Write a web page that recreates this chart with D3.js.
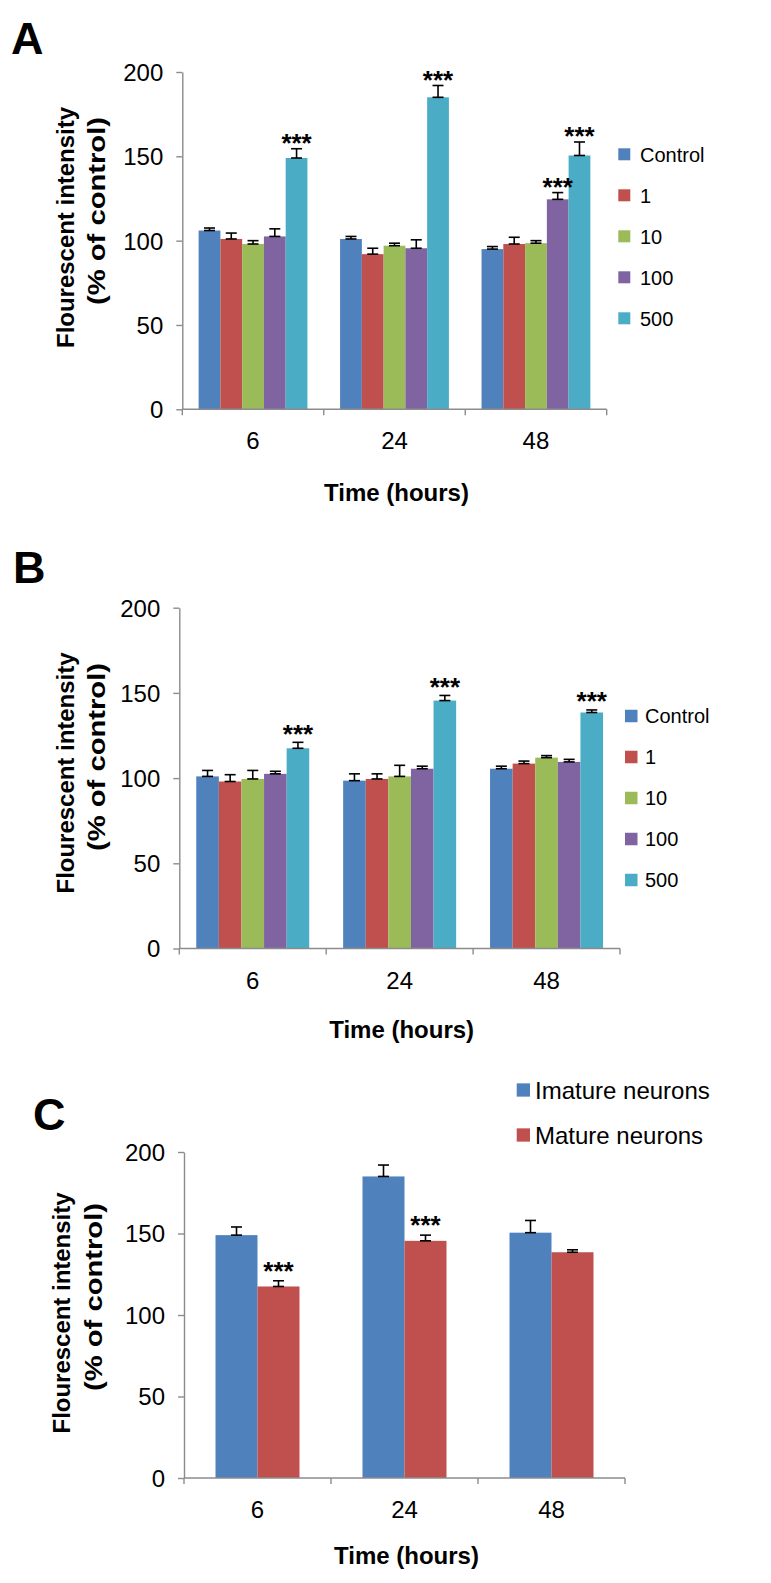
<!DOCTYPE html>
<html><head><meta charset="utf-8">
<script src="https://cdn.jsdelivr.net/npm/d3@7"></script>
<style>body{margin:0;background:#fff;} svg{display:block;}</style>
</head><body>
<script>
// ---------- DATA ----------
const categories = ["6", "24", "48"];
const seriesAB = ["Control", "1", "10", "100", "500"];
const seriesC = ["Imature neurons", "Mature neurons"];
const yTicks = [0, 50, 100, 150, 200];

// Panel A
const aControl = [106, 101, 95];
const a1 = [101, 92, 98];
const a10 = [98, 97, 98.5];
const a100 = [102.5, 95.5, 124.5];
const a500 = [149, 185, 150.5];
const aControlErr = [1.5, 1.5, 1.5];
const a1Err = [3.5, 3.5, 4];
const a10Err = [2, 1.5, 1.5];
const a100Err = [4.5, 5, 4];
const a500Err = [5.5, 7, 8];
const aStars = [["500", "6"], ["500", "24"], ["100", "48"], ["500", "48"]];

// Panel B
const bControl = [101, 98.5, 105.5];
const b1 = [98, 99.5, 108.5];
const b10 = [99.5, 101, 112];
const b100 = [102.5, 105.5, 109.5];
const b500 = [117.5, 145.5, 138.5];
const bControlErr = [3.5, 4, 1.5];
const b1Err = [4, 3, 1.5];
const b10Err = [5, 6.5, 1.2];
const b100Err = [1.5, 1.5, 1.5];
const b500Err = [3.5, 3, 1.5];
const bStars = [["500", "6"], ["500", "24"], ["500", "48"]];

// Panel C
const cImmature = [149, 185, 150.5];
const cMature = [117.5, 145.5, 138.5];
const cImmatureErr = [5, 7, 7.5];
const cMatureErr = [3.5, 3.5, 1.5];
const cStars = [["Mature neurons", "6"], ["Mature neurons", "24"]];

const colorsAB = ["#4F81BD", "#C0504D", "#9BBB59", "#8064A2", "#4BACC6"];
const colorsC = ["#4F81BD", "#C0504D"];

// ---------- DRAW ----------
const W = 771, H = 1583;
const FONT = "'Liberation Sans', Arial, Helvetica, sans-serif";
const svg = d3.select("body").append("svg").attr("width", W).attr("height", H)
  .style("font-family", FONT);

function drawPanel(cfg) {
  const g = svg.append("g");
  const x0 = d3.scaleBand().domain(categories).range([cfg.xL, cfg.xR]).paddingInner(0).paddingOuter(0);
  const x1 = d3.scaleBand().domain(cfg.series).range([0, x0.bandwidth()]).paddingInner(0).paddingOuter(0.75);
  const y = d3.scaleLinear().domain([0, 200]).range([cfg.y0, cfg.y200]);
  const axisColor = "#8c8c8c";

  // y axis
  const yAxis = g.append("g").attr("transform", `translate(${cfg.xL},0)`)
    .call(d3.axisLeft(y).tickValues(yTicks).tickSize(6).tickPadding(13).tickSizeOuter(0));
  yAxis.select(".domain").attr("stroke", axisColor).attr("stroke-width", 1.4);
  yAxis.selectAll(".tick line").attr("stroke", axisColor).attr("stroke-width", 1.4);
  yAxis.selectAll(".tick text").attr("font-size", 24).attr("font-family", FONT).attr("fill", "#000")
    .attr("dy", "0.35em");

  // bars
  cfg.series.forEach((s, i) => {
    const vals = cfg.values[i];
    categories.forEach((c, j) => {
      const bx = x0(c) + x1(s);
      g.append("rect").attr("x", bx).attr("y", y(vals[j]))
        .attr("width", x1.bandwidth()).attr("height", y(0) - y(vals[j]))
        .attr("fill", cfg.colors[i]);
    });
  });

  // x axis (boundary ticks like Excel)
  const xAxisG = g.append("g");
  xAxisG.append("line").attr("x1", cfg.xL).attr("x2", cfg.xR).attr("y1", cfg.y0).attr("y2", cfg.y0)
    .attr("stroke", axisColor).attr("stroke-width", 1.4);
  const bounds = categories.map(c => x0(c)).concat([x0(categories[categories.length - 1]) + x0.bandwidth()]);
  bounds.forEach(bx => {
    xAxisG.append("line").attr("x1", bx).attr("x2", bx).attr("y1", cfg.y0).attr("y2", cfg.y0 + 6)
      .attr("stroke", axisColor).attr("stroke-width", 1.4);
  });
  categories.forEach(c => {
    xAxisG.append("text").attr("x", x0(c) + x0.bandwidth() / 2).attr("y", cfg.y0 + 40)
      .attr("text-anchor", "middle").attr("font-size", 24).text(c);
  });

  // error bars
  cfg.series.forEach((s, i) => {
    const vals = cfg.values[i], errs = cfg.errors[i];
    categories.forEach((c, j) => {
      const cx = x0(c) + x1(s) + x1.bandwidth() / 2;
      const yl = y(vals[j]), yh = y(vals[j] + errs[j]);
      const cw = 5.5;
      const eg = g.append("g").attr("stroke", "#000").attr("stroke-width", 1.6);
      eg.append("line").attr("x1", cx).attr("x2", cx).attr("y1", yl).attr("y2", yh);
      eg.append("line").attr("x1", cx - cw).attr("x2", cx + cw).attr("y1", yl).attr("y2", yl);
      eg.append("line").attr("x1", cx - cw).attr("x2", cx + cw).attr("y1", yh).attr("y2", yh);
    });
  });

  // significance stars
  const sf = 26;
  cfg.stars.forEach(([s, c]) => {
    const i = cfg.series.indexOf(s), j = categories.indexOf(c);
    const cx = x0(c) + x1(s) + x1.bandwidth() / 2;
    const top = y(cfg.values[i][j] + cfg.errors[i][j]);
    g.append("text").attr("x", cx).attr("y", top - cfg.starGap + 0.28 * sf)
      .attr("text-anchor", "middle").attr("font-size", sf).attr("font-weight", "bold").text("***");
  });

  // legend
  cfg.series.forEach((s, i) => {
    const ly = cfg.legY + i * cfg.legDy;
    g.append("rect").attr("x", cfg.legX).attr("y", ly - cfg.legSize / 2)
      .attr("width", cfg.legSize).attr("height", cfg.legSize).attr("fill", cfg.colors[i]);
    g.append("text").attr("x", cfg.legTextX).attr("y", ly).attr("dy", "0.36em")
      .attr("font-size", cfg.legFont).text(s);
  });

  // axis titles
  g.append("text").attr("x", (cfg.xL + cfg.xR) / 2 + 2).attr("y", cfg.xTitleY)
    .attr("text-anchor", "middle").attr("font-size", 24).attr("font-weight", "bold").text("Time (hours)");
  g.append("text").attr("transform", `translate(${cfg.t1x},${cfg.t1cy}) rotate(-90)`)
    .attr("text-anchor", "middle").attr("font-size", 23).attr("font-weight", "bold")
    .attr("textLength", 241).attr("lengthAdjust", "spacingAndGlyphs")
    .text("Flourescent intensity");
  g.append("text").attr("transform", `translate(${cfg.t2x},${cfg.t2cy}) rotate(-90)`)
    .attr("text-anchor", "middle").attr("font-size", 23).attr("font-weight", "bold")
    .attr("textLength", 188).attr("lengthAdjust", "spacingAndGlyphs")
    .text("(% of control)");

  // panel letter
  g.append("text").attr("x", cfg.labX).attr("y", cfg.labY)
    .attr("font-size", 45).attr("font-weight", "bold").text(cfg.letter);
}

drawPanel({
  letter: "A", labX: 11, labY: 53.5,
  series: seriesAB, colors: colorsAB,
  values: [aControl, a1, a10, a100, a500],
  errors: [aControlErr, a1Err, a10Err, a100Err, a500Err],
  stars: aStars, starGap: 4,
  xL: 182.3, xR: 606.7, y0: 409.3, y200: 72,
  legX: 618.3, legTextX: 640, legY: 154.3, legDy: 41, legSize: 12, legFont: 20,
  xTitleY: 501,
  t1x: 73.5, t1cy: 227.5, t2x: 105, t2cy: 211
});

drawPanel({
  letter: "B", labX: 13, labY: 583,
  series: seriesAB, colors: colorsAB,
  values: [bControl, b1, b10, b100, b500],
  errors: [bControlErr, b1Err, b10Err, b100Err, b500Err],
  stars: bStars, starGap: 7,
  xL: 179.3, xR: 620, y0: 948.5, y200: 607.7,
  legX: 625, legTextX: 645, legY: 716, legDy: 41, legSize: 12.5, legFont: 20,
  xTitleY: 1038,
  t1x: 73.5, t1cy: 773, t2x: 105, t2cy: 757
});

drawPanel({
  letter: "C", labX: 33, labY: 1130,
  series: seriesC, colors: colorsC,
  values: [cImmature, cMature],
  errors: [cImmatureErr, cMatureErr],
  stars: cStars, starGap: 8,
  xL: 184, xR: 625, y0: 1478, y200: 1152,
  legX: 516.7, legTextX: 535, legY: 1090, legDy: 45, legSize: 13.3, legFont: 24,
  xTitleY: 1564,
  t1x: 70, t1cy: 1313, t2x: 101.8, t2cy: 1297
});
</script>
</body></html>
